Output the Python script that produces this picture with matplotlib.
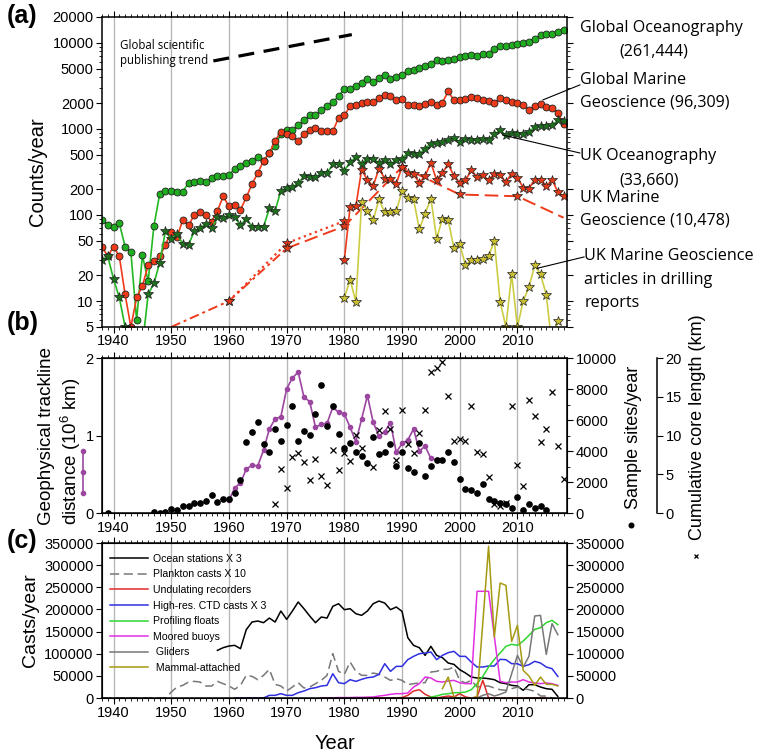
import numpy as np
import matplotlib
matplotlib.use("Agg")
import matplotlib.pyplot as plt
from matplotlib.ticker import MultipleLocator, FixedLocator, NullFormatter, LogLocator

plt.rcParams['font.family'] = ['Liberation Sans', 'DejaVu Sans']
plt.rcParams['mathtext.fontset'] = 'custom'
plt.rcParams['mathtext.rm'] = 'Liberation Sans'
plt.rcParams['mathtext.default'] = 'rm'

# ---- panel (a): publication counts per year ----
years_a = np.arange(1938, 2019)
glob_ocean = [88, 77,
              73, 80, 43, 37, 6, 34, 17, 75, 175, 191,
              191, 183, 187, 235, 240, 245, 240, 266, 286, 286,
              294, 342, 374, 402, 428, 468, 428, 525, 628, 874,
              970, 965, 1100, 1260, 1440, 1440, 1650, 1830, 2060, 2400,
              2940, 2880, 3130, 3420, 3770, 3510, 3910, 4200, 3770, 4020,
              4200, 4720, 4800, 5100, 5340, 5740, 6280, 6100, 6380, 6570,
              6860, 7000, 7180, 7050, 7500, 7500, 8570, 9200, 9200, 9400,
              9620, 10070, 10250, 11200, 12240, 12600, 12830, 13400, 14260]
glob_geo = [43, 33,
            43, 33, 12, 5, 11, 15, 26, 29, 33, 45,
            64, 55, 88, 76, 100, 107, 100, 84, 112, 164,
            126, 131, 115, 160, 229, 307, 427, 521, 731, 920,
            880, 820, 718, 880, 980, 1030, 940, 940, 940, 1340,
            1440, 1830, 1910, 2020, 2060, 2060, 2310, 2500, 2400, 2150,
            2230, 1910, 1910, 1830, 1970, 2080, 1910, 2020, 2730, 2150,
            2150, 2210, 2350, 2290, 2150, 2120, 2020, 2260, 2190, 2060,
            2000, 1880, 1680, 1830, 1930, 1800, 1730, 1530, 1150]
uk_ocean = [30, 33,
            18, 11, 5, 3, 3, 3, 12, 16, 28, 65,
            53, 60, 46, 45, 65, 71, 78, 70, 94, 92,
            100, 94, 76, 91, 73, 73, 73, 119, 112, 191,
            204, 210, 235, 281, 274, 274, 304, 304, 391, 391,
            327, 409, 470, 395, 452, 452, 402, 440, 395, 432,
            452, 526, 517, 517, 590, 675, 695, 708, 738, 785,
            708, 771, 750, 738, 771, 738, 867, 964, 843, 898,
            880, 880, 920, 1054, 1080, 1070, 1100, 1260, 1230]
years_uk_geo = np.arange(1980, 2019)
uk_geo = [30, 124, 127, 337, 253, 217, 346, 265, 265, 232,
          361, 310, 297, 236, 284, 406, 253, 310, 388, 284,
          238, 253, 330, 277, 290, 253, 303, 290, 242, 303,
          272, 208, 203, 258, 258, 215, 258, 185, 165]
years_drill = np.arange(1980, 2018)
uk_drill = [10.9, 17.7, 9.8, 142, 111, 87, 152, 107, 107, 111,
            190, 158, 152, 68, 104, 155, 53, 91, 87, 41,
            46, 26, 30, 30, 31, 33, 50, 9.8, 5, 20.5,
            5, 10, 14.6, 26, 20.5, 11.9, 3, 5.9]
decade_years = [1950, 1960, 1970, 1980, 1990, 2000, 2010, 2018]
decade_dash = [5, 10, 41, 74, 361, 173, 165, 93]
decade_dot_years = [1960, 1970, 1980]
decade_dot = [10, 47, 85]
trend_years = [1957.3, 1981.3]
trend_vals = [6160, 12470]

# ---- panel (b): trackline, sample sites, core length ----
track_years = np.arange(1960, 1997)
track = [0.164, 0.324, 0.389, 0.566, 0.618, 0.609, 0.812, 1.084, 1.214, 1.244,
         1.603, 1.741, 1.819, 1.495, 1.438, 1.106, 1.145, 1.158, 1.365, 1.300,
         1.279, 1.106, 0.920, 1.214, 1.516, 1.171, 0.994, 1.050, 1.166, 0.782,
         0.898, 0.942, 1.084, 0.799, 0.864, 0.704, 0.683]
sites_years = np.array([1939] + list(range(1947, 2016)))
sites = [0,
         50, 20, 65,
         280, 216, 454, 454, 648, 648, 756, 1188, 713, 929,
         886, 1317, 2117, 4600, 5205, 5853, 4428, 3909, 5421, 4644,
         5680, 6911, 4665, 5292, 5032, 6371, 8229, 5616, 6933, 5097,
         4168, 4536, 3952, 3693, 3240, 4881, 3780, 3952, 4449, 3045,
         3952, 2937, 2657, 4492, 2397, 3024, 3413, 3413, 3909, 3305,
         2181, 1577, 1512, 1296, 1901, 929, 756, 648, 562, 346,
         1037, 173, 605, 346, 432, 173]
core_years = np.arange(1968, 2019)
core = [1.21, 5.62,
        3.24, 7.17, 7.69, 6.61, 4.32, 6.95, 4.79, 3.59, 8.12, 5.53,
        7.69, 6.70, 10.06, 8.34, np.nan, 5.96, 10.71, 13.22, 10.84, 6.83,
        13.30, 8.90, 7.69, 10.28, 13.30, 18.19, 18.70, 19.44, 15.16, 9.33,
        9.50, 9.33, 13.82, 7.91, 7.60, 4.67, 1.21, 0.86, 1.30, 13.82,
        6.26, 3.50, 14.60, 12.57, 9.11, 10.84, 15.59, 8.68, 4.36]

# ---- panel (c): casts per year ----
ocean_years = np.arange(1958, 2018)
ocean_st = [107600, 113700,
            117400, 118900, 111400, 154300, 171600, 173900, 170100, 180600, 171600, 196500,
            177600, 196500, 216800, 201700, 185200, 170100, 182900, 180600, 207000, 213000,
            199500, 201700, 190400, 186700, 196500, 213000, 219000, 214500, 199500, 205500,
            195700, 136200, 118900, 113700, 96300, 116700, 96300, 91100, 79000, 76000,
            64000, 56500, 47400, 45200, 45200, 43700, 41400, 34600, 32400, 28600,
            27100, 17300, 30100, 30100, 24800, 21100, 19600, 3800]
plankton_years = np.arange(1938, 2017)
plankton = [0] * 12 + [
    13500, 24800, 28600, 36100, 37600, 36100, 27100, 27100, 37600, 32400,
    27100, 19600, 28600, 51200, 48900, 41400, 51200, 64700, 30900, 27100,
    15800, 24800, 34600, 22600, 24800, 32400, 39900, 51200, 100100, 60200,
    53400, 81300, 60200, 51200, 51200, 56500, 53400, 47400, 39900, 43700,
    39900, 30100, 32400, 33900, 34600, 58700, 60200, 64700, 64700, 70000,
    39900, 33900, 39900, 24800, 27100, 27100, 22600, 18800, 17300, 21100,
    24800, 21100, 18800, 15100, 4500, 4500, 0]
undul_years = np.arange(1976, 2016)
undulating = [0, 0, 0, 0, 0, 0, 0, 0, 0, 0, 0, 0, 0, 500, 1000,
              6000, 15800, 18800, 8300, 2300, 0, 2300, 4500, 2300, 9800,
              2300, 0, 2300, 40000, 0, 0, 0, 0, 0, 0,
              0, 0, 0, 0, 0]
ctd_years = np.arange(1961, 2018)
ctd = [0, 0, 0, 0, 0, 0, 6000, 6000, 9800,
       6000, 6000, 12000, 15800, 21100, 23300, 27100, 28600, 54900, 34600,
       32400, 41400, 37600, 42200, 45900, 47400, 53400, 77500, 60200, 71500,
       71500, 86600, 94100, 100100, 101600, 103900, 86600, 96300, 102400, 105400,
       94100, 94100, 81300, 70000, 70000, 72300, 72300, 87300, 86600, 77500,
       77500, 71500, 75300, 82800, 79000, 70000, 66200, 48900]
float_years = np.arange(1994, 2018)
floats = [0, 2300, 4500, 8300, 9800, 12000, 12000, 13500, 18800, 32400,
          48900, 70000, 87300, 101600, 116700, 121200, 118900, 128700, 141500, 155100,
          158800, 170100, 175400, 165600]
moored_years = np.arange(1976, 2018)
moored = [0, 500, 500, 1000, 1000, 1000, 1500, 1500, 2000, 2300,
          4500, 6000, 8300, 9800, 9800, 11300, 24800, 32400, 47400, 45200,
          37600, 36100, 38400, 39900, 34600, 32400, 32400, 241000, 241000, 241000,
          139000, 37600, 34600, 36100, 36100, 41400, 36100, 33900, 32400, 33900, 32400, 28600]
glider_years = np.arange(2003, 2018)
gliders = [0, 6000, 9800, 4500, 8300, 13500, 55000, 96300, 70000, 94100,
           185200, 186700, 98600, 167900, 143000]
mammal_years = np.arange(1997, 2018)
mammal = [21100, 47400, 2300, 0, 0, 0, 2300, 170000, 343000, 137700,
          259700, 254400, 128000, 164100, 62500, 49700, 28600, 47400, 30900, 30900, 27100]

fig = plt.figure(figsize=(7.67, 7.56), dpi=100)
ax_a = fig.add_axes([0.1330, 0.5675, 0.6063, 0.4101])
ax_b = fig.add_axes([0.1330, 0.3214, 0.6063, 0.2050])
ax_c = fig.add_axes([0.1330, 0.0767, 0.6063, 0.2050])

for ax in (ax_a, ax_b, ax_c):
    ax.set_xlim(1938, 2018.6)
    ax.xaxis.set_major_locator(MultipleLocator(10))
    ax.xaxis.set_minor_locator(MultipleLocator(1))
    ax.xaxis.grid(True, which='major', color='#b8b8b8', lw=1.0)
    ax.set_axisbelow(True)
    ax.tick_params(axis='x', which='both', top=True, bottom=True, direction='out',
                   labelsize=10.5, pad=1)
    ax.tick_params(axis='x', which='major', length=4)
    ax.tick_params(axis='x', which='minor', length=2.5)
    ax.tick_params(axis='y', labelsize=10.5)
    for s in ax.spines.values():
        s.set_linewidth(1.1)

# panel (a)
ax_a.set_yscale('log')
ax_a.set_ylim(5, 20000)
a_ticks = [5, 10, 20, 50, 100, 200, 500, 1000, 2000, 5000, 10000, 20000]
ax_a.yaxis.set_major_locator(FixedLocator(a_ticks))
ax_a.set_yticklabels([str(t) for t in a_ticks])
ax_a.yaxis.set_minor_locator(LogLocator(base=10, subs=np.arange(1, 10)))
ax_a.yaxis.set_minor_formatter(NullFormatter())
ax_a.tick_params(axis='y', which='both', left=True, right=True, direction='out', pad=2)
ax_a.tick_params(axis='y', which='major', length=4)
ax_a.tick_params(axis='y', which='minor', length=2.5)

green, red = '#22b822', '#f03a1c'
ax_a.plot(trend_years, trend_vals, color='k', lw=2.3, dashes=(5, 3))
ax_a.plot(years_a, glob_ocean, '-o', color=green, mfc='#1fae1f', mec='#222222',
          ms=5.0, mew=0.6, lw=1.2)
ax_a.plot(years_a, glob_geo, '-o', color=red, mfc='#ee3a18', mec='#222222',
          ms=5.0, mew=0.6, lw=1.2)
ax_a.plot(years_a, uk_ocean, '-*', color=green, mfc='#1d6e1d', mec='#222222',
          ms=7.3, mew=0.5, lw=1.2)
ax_a.plot(decade_dot_years, decade_dot, ':*', color=red, mfc='#e03a18', mec='#222222',
          ms=7.3, mew=0.5, lw=1.6)
ax_a.plot(decade_years[:3], decade_dash[:3], color=red, lw=1.4, dashes=(5, 2, 1.5, 2))
ax_a.plot(decade_years[2:], decade_dash[2:], color=red, lw=1.4, dashes=(7, 3))
ax_a.plot(decade_years[1:7], decade_dash[1:7], '*', mfc='#e03a18', mec='#222222',
          ms=7.3, mew=0.5)
ax_a.plot(years_drill, uk_drill, '-*', color='#cccc44', mfc='#c9bf30', mec='#222222',
          ms=7.3, mew=0.5, lw=1.2)
ax_a.plot(years_uk_geo, uk_geo, '-*', color=red, mfc='#e03a18', mec='#222222',
          ms=7.3, mew=0.5, lw=1.2)
ax_a.set_ylabel('Counts/year', fontsize=14.5, labelpad=4)
ax_a.text(1941.1, 7640, 'Global scientific\npublishing trend', fontsize=8.3,
          family='Open Sans', va='center', ha='left')

lab_kw = dict(transform=ax_a.transAxes, fontsize=11.6, family='Open Sans',
              va='center', ha='left', clip_on=False)
ax_a.text(1.028, 0.965, 'Global Oceanography', **lab_kw)
ax_a.text(1.112, 0.890, '(261,444)', **lab_kw)
ax_a.text(1.028, 0.797, 'Global Marine', **lab_kw)
ax_a.text(1.028, 0.723, 'Geoscience (96,309)', **lab_kw)
ax_a.text(1.028, 0.552, 'UK Oceanography', **lab_kw)
ax_a.text(1.112, 0.474, '(33,660)', **lab_kw)
ax_a.text(1.028, 0.416, 'UK Marine', **lab_kw)
ax_a.text(1.028, 0.342, 'Geoscience (10,478)', **lab_kw)
ax_a.text(1.037, 0.229, 'UK Marine Geoscience', **lab_kw)
ax_a.text(1.037, 0.152, 'articles in drilling', **lab_kw)
ax_a.text(1.037, 0.077, 'reports', **lab_kw)
line_kw = dict(textcoords='axes fraction', annotation_clip=False,
               arrowprops=dict(arrowstyle='-', lw=0.8, color='k', shrinkA=0, shrinkB=0))
ax_a.annotate('', xy=(2014.4, 2170), xytext=(1.028, 0.781), **line_kw)
ax_a.annotate('', xy=(2007.4, 851), xytext=(1.028, 0.561), **line_kw)
ax_a.annotate('', xy=(2013.4, 24), xytext=(1.037, 0.226), **line_kw)

# panel (b)
purple = '#9b469f'
ax_b.set_ylim(0, 2)
ax_b.set_yticks([0, 1, 2])
ax_b.tick_params(axis='y', direction='out', length=4, pad=2)
ax_b.tick_params(axis='x', labelbottom=False)
ax_b.plot(track_years, track, '-o', color=purple, ms=3.0, lw=1.2)
ax_b.set_ylabel('Geophysical trackline\ndistance (10$^6$ km)', fontsize=13.5,
                multialignment='left', labelpad=2)
ax_b.plot([-0.041, -0.041, -0.041], [0.40, 0.265, 0.129], '-o', color=purple, ms=3.0,
          lw=1.2, transform=ax_b.transAxes, clip_on=False)

ax_b2 = ax_b.twinx()
ax_b2.set_ylim(0, 10000)
ax_b2.yaxis.set_major_locator(MultipleLocator(2000))
ax_b2.yaxis.set_minor_locator(MultipleLocator(1000))
ax_b2.tick_params(axis='y', which='both', direction='out', labelsize=10.5, pad=2)
ax_b2.tick_params(axis='y', which='major', length=4)
ax_b2.tick_params(axis='y', which='minor', length=2.5)
ax_b2.plot(sites_years, sites, 'o', color='k', ms=3.8, zorder=3)
ax_b2.text(1.142, 0.49, 'Sample sites/year', transform=ax_b.transAxes, rotation=90,
           fontsize=13, ha='center', va='center')
ax_b2.plot([1.138], [-0.077], 'o', color='k', ms=3.3, transform=ax_b.transAxes, clip_on=False)

ax_b3 = ax_b.twinx()
ax_b3.spines['right'].set_position(('axes', 1.194))
for side in ('top', 'bottom', 'left'):
    ax_b3.spines[side].set_visible(False)
ax_b3.spines['right'].set_linewidth(1.1)
ax_b3.set_ylim(0, 20)
ax_b3.set_yticks([0, 5, 10, 15, 20])
ax_b3.tick_params(axis='y', direction='out', length=4, labelsize=10.5, pad=2)
ax_b3.plot(core_years, core, 'x', color='k', ms=4, mew=0.9, zorder=3)
ax_b3.text(1.28, 0.555, 'Cumulative core length (km)', transform=ax_b.transAxes,
           rotation=90, fontsize=13, ha='center', va='center')
ax_b3.plot([1.277], [-0.277], 'x', color='k', ms=3.5, mew=0.9, transform=ax_b.transAxes,
           clip_on=False)

# panel (c)
c_ticks = list(range(0, 350001, 50000))
ax_c.set_ylim(0, 350000)
ax_c.set_yticks(c_ticks)
ax_c.set_yticklabels([str(t) for t in c_ticks])
ax_c.tick_params(axis='y', direction='out', length=4, pad=2)
ax_c.tick_params(axis='x', labeltop=True, which='major', pad=2)
ax_c.plot(ocean_years, ocean_st, color='k', lw=1.1, label='Ocean stations X 3')
ax_c.plot(plankton_years, plankton, color='#777777', lw=1.1, dashes=(6, 3),
          label='Plankton casts X 10')
ax_c.plot(undul_years, undulating, color='#e02a2a', lw=1.1, label='Undulating recorders')
ax_c.plot(ctd_years, ctd, color='#2f2fe0', lw=1.1, label='High-res. CTD casts X 3')
ax_c.plot(float_years, floats, color='#2fd62f', lw=1.1, label='Profiling floats')
ax_c.plot(moored_years, moored, color='#e030e0', lw=1.1, label='Moored buoys')
ax_c.plot(glider_years, gliders, color='#777777', lw=1.1, label=' Gliders')
ax_c.plot(mammal_years, mammal, color='#a59a12', lw=1.1, label=' Mammal-attached')
ax_c.legend(loc='upper left', bbox_to_anchor=(0.017, 0.93), frameon=False, fontsize=7.6,
            handlelength=3.6, handletextpad=0.5, labelspacing=0.53, borderaxespad=0,
            borderpad=0)
ax_c.set_ylabel('Casts/year', fontsize=14, labelpad=4)
ax_c.set_xlabel('Year', fontsize=14.5, labelpad=10)

ax_c2 = ax_c.twinx()
ax_c2.set_ylim(0, 350000)
ax_c2.set_yticks(c_ticks)
ax_c2.set_yticklabels([str(t) for t in c_ticks])
ax_c2.tick_params(axis='y', direction='out', length=4, labelsize=10.5, pad=2)

fig.text(0.009, 0.979, '(a)', fontsize=18, fontweight='bold', va='center')
fig.text(0.009, 0.573, '(b)', fontsize=18, fontweight='bold', va='center')
fig.text(0.009, 0.284, '(c)', fontsize=18, fontweight='bold', va='center')

fig.savefig('out.png', dpi=100)
